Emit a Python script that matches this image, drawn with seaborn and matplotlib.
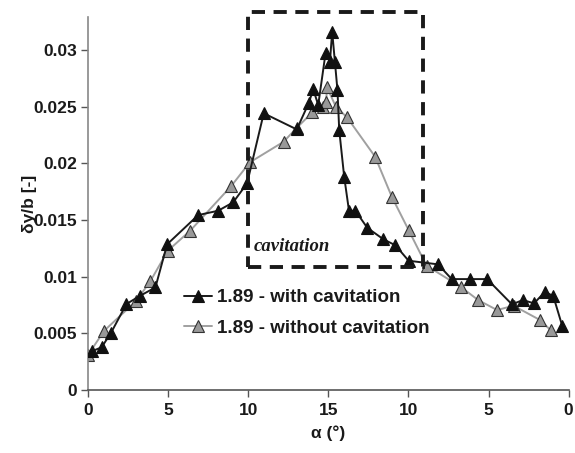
import matplotlib
matplotlib.use("Agg")
import matplotlib.pyplot as plt
from matplotlib.patches import Rectangle
import seaborn as sns
import numpy as np

# Sweep position: 0 -> 15 -> 0 degrees, laid out on a 0..30 axis
x_with = [0.27, 0.85, 1.43, 2.40, 3.22, 4.21, 4.94, 6.88, 8.12, 9.06, 9.93,
          10.97, 13.03, 13.77, 14.06, 14.37, 14.83, 15.10, 15.24, 15.41, 15.57,
          15.68, 15.99, 16.29, 16.69, 17.43, 18.44, 19.19, 20.01, 21.85, 22.70,
          23.83, 24.91, 26.46, 27.14, 27.84, 28.52, 29.04, 29.60]
y_with = [0.00344, 0.00377, 0.00503, 0.00759, 0.00829, 0.00906, 0.01286,
          0.01544, 0.01582, 0.01656, 0.01824, 0.02442, 0.02300, 0.02530,
          0.02653, 0.02515, 0.02976, 0.02897, 0.03162, 0.02897, 0.02647,
          0.02294, 0.01882, 0.01582, 0.01582, 0.01432, 0.01330, 0.01277,
          0.01141, 0.01109, 0.00979, 0.00979, 0.00979, 0.00756, 0.00794,
          0.00765, 0.00867, 0.00829, 0.00565]

x_without = [0.0, 1.01, 3.02, 3.90, 4.98, 6.38, 8.94, 10.10, 12.21, 13.03,
             14.00, 14.64, 14.86, 14.92, 15.47, 16.17, 17.92, 18.96, 20.01,
             21.13, 23.25, 24.35, 25.53, 26.56, 28.21, 28.87]
y_without = [0.00309, 0.00523, 0.00788, 0.00962, 0.01229, 0.01406, 0.01800,
             0.02009, 0.02191, 0.02314, 0.02450, 0.02494, 0.02544, 0.02671,
             0.02500, 0.02406, 0.02059, 0.01706, 0.01412, 0.01097, 0.00912,
             0.00794, 0.00706, 0.00744, 0.00618, 0.00529]

x_ticks = [0, 5, 10, 15, 20, 25, 30]
x_tick_labels = ["0", "5", "10", "15", "10", "5", "0"]
y_ticks = [0, 0.005, 0.01, 0.015, 0.02, 0.025, 0.03]
y_tick_labels = ["0", "0.005", "0.01", "0.015", "0.02", "0.025", "0.03"]

label_with = "1.89 - with cavitation"
label_without = "1.89 - without cavitation"

sns.set_style("ticks")
plt.rcParams["font.family"] = ["Liberation Sans", "DejaVu Sans"]

fig = plt.figure(figsize=(5.75, 4.53), dpi=100)
ax = fig.add_axes([0.153, 0.139, 0.836, 0.823])

sns.lineplot(x=x_with, y=y_with, ax=ax, estimator=None, sort=False,
             color="#1a1a1a", linewidth=1.4, marker="^", markersize=8,
             markerfacecolor="#111111", markeredgecolor="#111111",
             markeredgewidth=0.8, label=label_with, zorder=3)
sns.lineplot(x=x_without, y=y_without, ax=ax, estimator=None, sort=False,
             color="#a0a0a0", linewidth=1.4, marker="^", markersize=8,
             markerfacecolor="#999999", markeredgecolor="#333333",
             markeredgewidth=0.8, label=label_without, zorder=2)

ax.set_xlim(0, 30)
ax.set_ylim(0, 0.0329)
ax.set_xticks(x_ticks)
ax.set_xticklabels(x_tick_labels)
ax.set_yticks(y_ticks)
ax.set_yticklabels(y_tick_labels)

for lab in ax.get_xticklabels() + ax.get_yticklabels():
    lab.set_fontweight("bold")
    lab.set_fontsize(12.5)
    lab.set_color("#1a1a1a")
ax.tick_params(axis="x", direction="out", length=5, width=1, color="#555555", pad=4)
ax.tick_params(axis="y", direction="out", length=5, width=1, color="#555555", pad=3)

sns.despine(ax=ax)
ax.spines["left"].set_color("#888888")
ax.spines["bottom"].set_color("#555555")
ax.spines["left"].set_linewidth(1.2)
ax.spines["bottom"].set_linewidth(1.2)

ax.set_xlabel("α (°)", fontsize=12.5, fontweight="bold", color="#1a1a1a", labelpad=6)
ax.set_ylabel("δy/b [-]", fontsize=12.5, fontweight="bold", color="#1a1a1a", labelpad=-3)

# Cavitation region outline
box = Rectangle((10.0, 0.01085), 10.9, 0.02255, fill=False, edgecolor="#1a1a1a",
                linewidth=2.8, linestyle=(0, (3.4, 2.2)), clip_on=False, zorder=4)
ax.add_patch(box)
ax.text(10.35, 0.0123, "cavitation", fontsize=13.5, fontstyle="italic",
        fontweight="bold", family=["Liberation Serif", "DejaVu Serif"],
        color="#1a1a1a")

leg = ax.legend(loc="center left", bbox_to_anchor=(0.2, 0.207), frameon=False,
                fontsize=13.5, handlelength=1.5, handletextpad=0.25,
                borderpad=0, borderaxespad=0, labelspacing=0.7)
for t in leg.get_texts():
    t.set_fontweight("bold")
    t.set_color("#1a1a1a")

fig.savefig("out.png", dpi=100)
